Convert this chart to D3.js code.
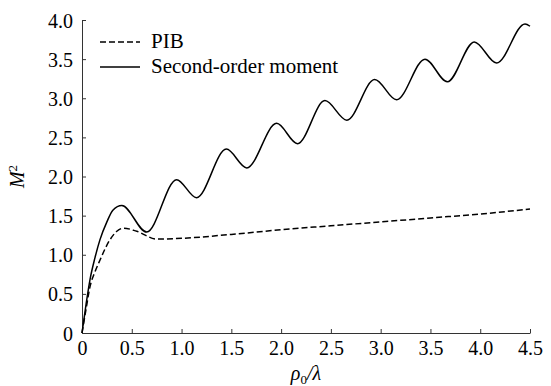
<!DOCTYPE html>
<html>
<head>
<meta charset="utf-8">
<script src="https://cdn.jsdelivr.net/npm/d3@7"></script>
</head>
<body style="margin:0">
<script>
// Data
var xTicks = [0, 0.5, 1.0, 1.5, 2.0, 2.5, 3.0, 3.5, 4.0, 4.5];
var yTicks = [0, 0.5, 1.0, 1.5, 2.0, 2.5, 3.0, 3.5, 4.0];

// Second-order moment
var momentX = [0, 0.04, 0.08, 0.13, 0.18, 0.25, 0.31, 0.40, 0.65, 0.95, 1.15, 1.45, 1.655, 1.955, 2.165, 2.44, 2.66, 2.94, 3.16, 3.445, 3.67, 3.94, 4.165, 4.45, 4.5];
var momentY = [0, 0.36, 0.68, 0.96, 1.19, 1.42, 1.57, 1.63, 1.29, 1.96, 1.73, 2.35, 2.11, 2.68, 2.42, 2.97, 2.72, 3.24, 2.98, 3.50, 3.21, 3.72, 3.45, 3.95, 3.92];

// PIB
var pibX = [0, 0.04, 0.08, 0.13, 0.18, 0.28, 0.35, 0.42, 0.55, 0.75, 1.0, 1.5, 2.0, 2.5, 3.0, 3.5, 4.0, 4.5];
var pibY = [0, 0.30, 0.59, 0.78, 0.93, 1.19, 1.30, 1.34, 1.30, 1.20, 1.21, 1.26, 1.32, 1.37, 1.42, 1.47, 1.52, 1.585];

var svgWidth = 551, svgHeight = 386;
var margins = {top: 20, right: 21, bottom: 53, left: 82};
var width = svgWidth - margins.left - margins.right;
var height = svgHeight - margins.top - margins.bottom;

var svg = d3.select("body")
  .append("svg")
    .attr("width", svgWidth)
    .attr("height", svgHeight)
  .append("g")
    .attr("transform", "translate(" + margins.left + "," + margins.top + ")");

var x = d3.scaleLinear().domain([0, 4.5]).range([0, width]);
var y = d3.scaleLinear().domain([0, 4.0]).range([height, 0]);

function fmt(d) { return d === 0 ? "0" : d3.format(".1f")(d); }

// Axes with inward ticks
var xAxis = svg.append("g")
  .attr("transform", "translate(0," + height + ")")
  .call(d3.axisBottom(x).tickValues(xTicks).tickSizeInner(-4).tickSizeOuter(0).tickPadding(8).tickFormat(fmt));
var yAxis = svg.append("g")
  .call(d3.axisLeft(y).tickValues(yTicks).tickSizeInner(-4).tickSizeOuter(0).tickPadding(9).tickFormat(fmt));

[xAxis, yAxis].forEach(function(a) {
  a.select(".domain").attr("stroke", "#333");
  a.selectAll(".tick line").attr("stroke", "#333");
  a.selectAll(".tick text")
    .attr("fill", "#000")
    .style("font-family", "Liberation Serif")
    .style("font-size", "20px");
});
yAxis.selectAll(".tick text").attr("dy", "0.35em");

// Lines
var line = d3.line()
  .x(d => x(d[0]))
  .y(d => y(d[1]))
  .curve(d3.curveMonotoneX);

var moment = momentX.map((v, i) => [v, momentY[i]]);
var pib = pibX.map((v, i) => [v, pibY[i]]);

svg.append("path")
  .attr("d", line(pib))
  .attr("fill", "none")
  .attr("stroke", "#000")
  .attr("stroke-width", 1.5)
  .attr("stroke-dasharray", "6,3");

svg.append("path")
  .attr("d", line(moment))
  .attr("fill", "none")
  .attr("stroke", "#000")
  .attr("stroke-width", 1.5);

// Legend
var legend = svg.append("g").attr("transform", "translate(18,22)");
var items = [{name: "PIB", dash: "6,3"}, {name: "Second-order moment", dash: null}];
items.forEach(function(it, i) {
  var g = legend.append("g").attr("transform", "translate(0," + (i * 25) + ")");
  g.append("line")
    .attr("x1", 0).attr("x2", 40)
    .attr("stroke", "#000").attr("stroke-width", 1.5)
    .attr("stroke-dasharray", it.dash);
  g.append("text")
    .attr("x", 51).attr("dy", "0.3em")
    .style("font-family", "Liberation Serif")
    .style("font-size", "21px")
    .text(it.name);
});

// Axis titles
var xt = svg.append("text")
  .attr("x", width / 2)
  .attr("y", height + 47)
  .attr("text-anchor", "middle")
  .style("font-family", "Liberation Serif")
  .style("font-size", "20px")
  .style("font-style", "italic");
xt.append("tspan").text("ρ");
xt.append("tspan").attr("dy", 4).style("font-size", "13px").style("font-style", "normal").text("0");
xt.append("tspan").attr("dy", -4).text("/λ");

var yt = svg.append("text")
  .attr("transform", "translate(" + (-58) + "," + (height / 2) + ") rotate(-90)")
  .attr("text-anchor", "middle")
  .style("font-family", "Liberation Serif")
  .style("font-size", "20px")
  .style("font-style", "italic");
yt.append("tspan").text("M");
yt.append("tspan").attr("dy", -7).style("font-size", "13px").style("font-style", "normal").text("2");
</script>
</body>
</html>
